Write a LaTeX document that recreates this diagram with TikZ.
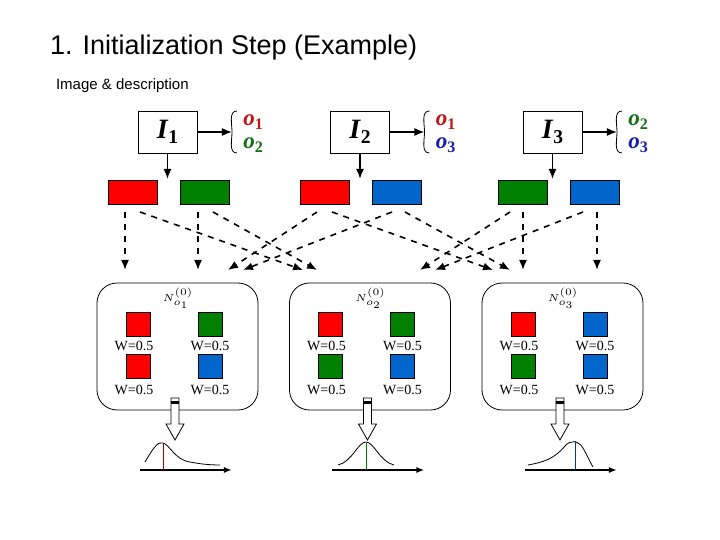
\documentclass[tikz,border=0pt]{standalone}
\usepackage{fontspec}
\setmainfont{Liberation Serif}
\newfontfamily\sansfont{Liberation Sans}
\usetikzlibrary{arrows.meta,positioning}
\definecolor{fred}{RGB}{255,0,0}
\definecolor{fgreen}{RGB}{0,128,0}
\definecolor{fblue}{RGB}{0,102,204}
\definecolor{ored}{RGB}{190,20,20}
\definecolor{ogreen}{RGB}{20,110,20}
\definecolor{oblue}{RGB}{20,30,170}
\tikzstyle{arrow} = [thick,-{Latex[length=5pt,width=4pt]}]
\newcommand{\bsub}[2]{\textbf{\textit{#1}}\raisebox{-0.35ex}{\scalebox{0.7}{\textbf{#2}}}}

\begin{document}
\begin{tikzpicture}[x=0.5pt,y=-0.5pt]
    \tikzstyle{img} = [draw, minimum width=29.5pt, minimum height=21pt, font=\fontsize{14}{14}\selectfont]
    \tikzstyle{desc} = [font=\fontsize{11.5}{11.5}\selectfont, anchor=west, inner sep=0pt]
    \tikzstyle{feat} = [draw, minimum width=24.5pt, minimum height=12pt, inner sep=0pt]
    \tikzstyle{cell} = [draw, minimum size=12pt, inner sep=0pt]
    \tikzstyle{wlab} = [font=\fontsize{7}{7}\selectfont, inner sep=0pt]
    \tikzstyle{link} = [thick, dashed, -{Latex[length=5pt,width=4pt]}]
    \useasboundingbox (0,0) rectangle (720,540);

    \node[anchor=west, font=\sansfont\fontsize{13.5}{13.5}\selectfont] (title) at (43,48) {1. Initialization Step (Example)};
    \node[anchor=west, font=\sansfont\fontsize{7.5}{7.5}\selectfont] (desc) at (49,86) {Image \& description};

    % images and descriptions
    \foreach \i/\a/\ca/\b/\cb [count=\k from 0] in {1/1/ored/2/ogreen, 2/1/ored/3/oblue, 3/2/ogreen/3/oblue} {
        \node[img] (I\i) at (167.5+192.5*\k,132) {\bsub{I}{\i}};
        \coordinate (br\i) at (232+192.5*\k,132);
        \draw[arrow] (I\i) -- (br\i);
        \draw (br\i) ++(5,-21) to[out=180,in=90] ++(-5,21) to[out=-90,in=180] ++(5,21);
        \node[desc, text=\ca] (oa\i) at (243+192.5*\k,122) {\bsub{o}{\a}};
        \node[desc, text=\cb] (ob\i) at (243+192.5*\k,145) {\bsub{o}{\b}};
        \coordinate (ia\i) at (167.5+192.5*\k,179);
        \draw[arrow] (I\i) -- (ia\i);
    }
    \node[feat, fill=fred]   (f1a) at (132.5,192) {};
    \node[feat, fill=fgreen] (f1b) at (204.5,192) {};
    \node[feat, fill=fred]   (f2a) at (324.5,192) {};
    \node[feat, fill=fblue]  (f2b) at (396.5,192) {};
    \node[feat, fill=fgreen] (f3a) at (522.5,192) {};
    \node[feat, fill=fblue]  (f3b) at (594.5,192) {};

    % object models
    \foreach \o/\sa/\sb/\sc/\sd [count=\k from 0] in {1/fred/fgreen/fred/fblue, 2/fred/fgreen/fgreen/fblue, 3/fred/fblue/fgreen/fblue} {
        \node[draw, rounded corners=10pt, minimum width=80.5pt, minimum height=63.5pt] (N\o) at (177.5+192.5*\k,346.5) {};
        \node[font=\fontsize{6}{6}\selectfont, inner sep=0pt] (NL\o) at (178+192.5*\k,298) {$\scriptstyle N^{(0)}_{o_{\o}}$};
        \node[cell, fill=\sa] (c\o a) at (138+192.5*\k,324) {};
        \node[cell, fill=\sb] (c\o b) at (210+192.5*\k,324) {};
        \node[cell, fill=\sc] (c\o c) at (138+192.5*\k,366) {};
        \node[cell, fill=\sd] (c\o d) at (210+192.5*\k,366) {};
        \node[wlab] at (134+192.5*\k,346) {W=0.5};
        \node[wlab] at (210+192.5*\k,346) {W=0.5};
        \node[wlab] at (134+192.5*\k,390) {W=0.5};
        \node[wlab] at (210+192.5*\k,390) {W=0.5};
        % hollow arrow
        \draw[fill=white] (171+192.5*\k,398) -- (179+192.5*\k,398) -- (179+192.5*\k,424) -- (184+192.5*\k,424)
            -- (175+192.5*\k,440) -- (166+192.5*\k,424) -- (171+192.5*\k,424) -- cycle;
        \fill (171+192.5*\k,401) rectangle (179+192.5*\k,404);
        % axis
        \coordinate (ax\o) at (140+192.5*\k,470);
        \coordinate (ay\o) at (232+192.5*\k,470);
        \draw[thick,-{Latex[length=4pt,width=3pt]}] (ax\o) -- (ay\o);
    }
    % distributions
    \draw (145,462) .. controls (155,445) and (158,442) .. (163,443) .. controls (170,445) and (175,460) .. (190,462) .. controls (200,464) and (210,465) .. (220,465);
    \draw[fred!70!black] (163,443) -- (163,470);
    \draw (338,465) .. controls (352,462) and (358,442) .. (366,442) .. controls (374,442) and (380,462) .. (394,465);
    \draw[fgreen] (366,442) -- (366,470);
    \draw (528,465) .. controls (545,462) and (555,458) .. (565,446) .. controls (570,440) and (578,440) .. (583,448) .. controls (587,455) and (590,462) .. (593,467);
    \draw[fblue!60!black] (575,441) -- (575,470);

    % dashed feature links
    \foreach \f/\sx/\tx in {f1a/125/125, f1b/198/198, f2a/317/228, f2b/392/243,
        f1a/140/303, f1b/213/317, f3a/510/420, f3b/583/435,
        f2a/332/493, f2b/405/510, f3a/523/523, f3b/597/597} {
        \coordinate (s) at (\sx,212);
        \coordinate (t) at (\tx,270);
        \draw[link] (s) -- (t);
    }
\end{tikzpicture}
\end{document}
